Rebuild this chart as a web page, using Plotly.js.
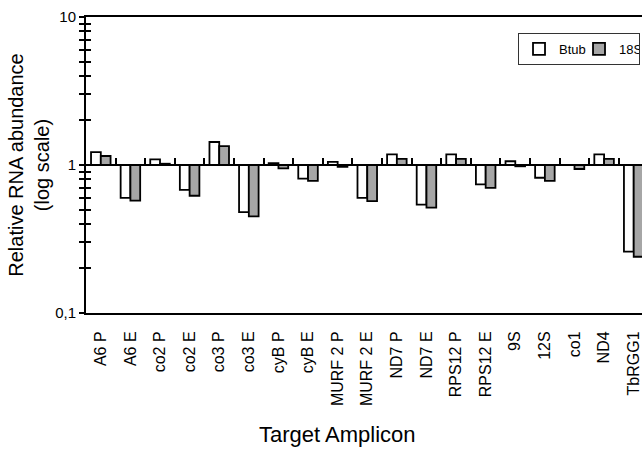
<!DOCTYPE html>
<html><head><meta charset="utf-8">
<script src="https://cdn.plot.ly/plotly-3.0.1.min.js"></script>
<style>html,body{margin:0;padding:0;background:#fff}#chart{width:642px;height:451px}</style>
</head><body><div id="chart"></div>
<script>
const categories = ['A6 P','A6 E','co2 P','co2 E','co3 P','co3 E','cyB P','cyB E','MURF 2 P','MURF 2 E','ND7 P','ND7 E','RPS12 P','RPS12 E','9S','12S','co1','ND4','TbRGG1'];
const btub = [1.22,0.60,1.09,0.68,1.43,0.48,1.03,0.81,1.05,0.60,1.18,0.54,1.18,0.74,1.06,0.82,1.00,1.18,0.26];
const s18  = [1.15,0.575,1.02,0.62,1.34,0.45,0.95,0.78,0.97,0.57,1.10,0.515,1.10,0.70,0.98,0.78,0.94,1.10,0.24];
const seriesNames = ['Btub','18S'];
const majorTickVals = [0.1, 1, 10];
const majorTickText = ['0,1', '1', '10'];
const baseline = 1;

const tickVals = [], tickText = [];
majorTickVals.forEach((v, i) => {
  tickVals.push(v); tickText.push(majorTickText[i]);
  if (i < majorTickVals.length - 1) {
    for (let k = 2; k <= 9; k++) { tickVals.push(v * k); tickText.push(''); }
  }
});

const font = 'Arial, Liberation Sans, sans-serif';
const outline = {color: '#000', width: 1.8};
const barW = 0.33;
const traces = [
  {type: 'bar', name: seriesNames[0], x: categories, base: baseline,
   y: btub.map(v => v - baseline), width: barW, offset: -barW,
   xaxis: 'x', yaxis: 'y', marker: {color: '#ffffff', line: outline}},
  {type: 'bar', name: seriesNames[1], x: categories, base: baseline,
   y: s18.map(v => v - baseline), width: barW, offset: 0,
   xaxis: 'x2', yaxis: 'y2', marker: {color: '#a6a6a6', line: outline}}
];

const xRange = [-0.5, 18.28];
const yRange = [-1, 1];
const layout = {
  width: 642, height: 451,
  margin: {l: 86, r: 0, t: 17, b: 138, autoexpand: false},
  paper_bgcolor: '#fff', plot_bgcolor: '#fff',
  font: {family: font, color: '#000'},
  showlegend: true,
  legend: {orientation: 'h', x: 0.777, xanchor: 'left', y: 0.892, yanchor: 'middle',
           bgcolor: '#fff', bordercolor: '#333', borderwidth: 1,
           font: {size: 13, family: font}, itemwidth: 30, entrywidth: 15, entrywidthmode: 'pixels'},
  xaxis: {type: 'category', categoryorder: 'array', categoryarray: categories,
          range: xRange, showline: true, linecolor: '#000', linewidth: 2, mirror: true,
          ticks: '', tickangle: -90, tickfont: {size: 16}, ticklabelstandoff: 10,
          showgrid: false, zeroline: false},
  xaxis2: {type: 'category', categoryorder: 'array', categoryarray: categories,
           overlaying: 'x', anchor: 'free', position: 0.5, side: 'bottom',
           range: xRange, tickson: 'boundaries',
           ticks: 'inside', ticklen: 6, tickwidth: 2, tickcolor: '#000',
           showticklabels: false, showline: true, linecolor: '#000', linewidth: 2,
           showgrid: false, zeroline: false},
  yaxis: {type: 'log', range: yRange, tickmode: 'array', tickvals: tickVals, ticktext: tickText,
          ticks: 'outside', ticklen: 5, tickwidth: 2, tickcolor: '#000',
          tickfont: {size: 15}, showline: true, linecolor: '#000', linewidth: 2,
          showgrid: false, zeroline: false,
          title: {text: 'Relative RNA abundance<br>(log scale)', font: {size: 20}, standoff: 0}},
  yaxis2: {type: 'log', range: yRange, overlaying: 'y', side: 'left', anchor: 'x',
           tickmode: 'array', tickvals: tickVals, ticktext: tickVals.map(() => ''),
           ticks: 'inside', ticklen: 5, tickwidth: 2, tickcolor: '#000',
           showticklabels: false, showline: false, showgrid: false, zeroline: false},
  annotations: [{text: 'Target Amplicon', xref: 'paper', yref: 'paper',
                 x: 0.453, y: -0.412, xanchor: 'center', yanchor: 'middle',
                 showarrow: false, font: {size: 22, family: font}}]
};
Plotly.newPlot('chart', traces, layout, {displayModeBar: false, staticPlot: true});
</script></body></html>
